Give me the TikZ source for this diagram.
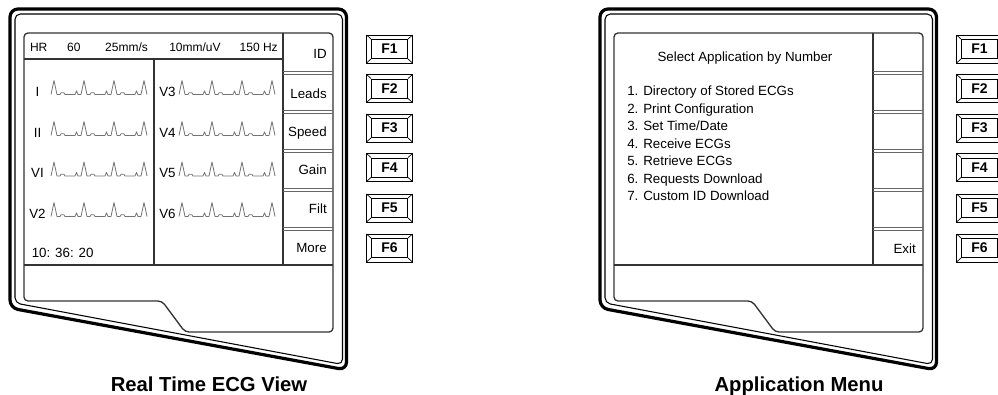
\documentclass[tikz,border=0pt]{standalone}
\usepackage{fontspec}
\setmainfont{Liberation Sans}

\begin{document}
\begin{tikzpicture}[
  x=0.75pt, y=-0.75pt,
  bezel/.style={line width=2.4pt, rounded corners=6pt},
  rim/.style={line width=0.8pt, rounded corners=4pt},
  panel/.style={draw=black!80, line width=1pt},
  sep/.style={draw=black!60, line width=0.6pt},
  lbl/.style={inner sep=0pt, anchor=base, font=\fontsize{10}{12}\selectfont},
  hdr/.style={inner sep=0pt, anchor=base, font=\fontsize{9}{11}\selectfont},
  soft/.style={lbl, anchor=base east},
  item/.style={lbl, anchor=base west},
  fkey/.style={draw, line width=0.7pt, minimum width=27pt, minimum height=14.25pt, inner sep=0pt,
    font=\fontsize{10.5}{12}\selectfont\bfseries},
  title/.style={inner sep=0pt, anchor=base, font=\fontsize{15.2}{18}\selectfont\bfseries},
  trace/.style={draw=black!55, line width=0.6pt, line join=round},
  pics/ecg/.style={code={
    \draw[trace] (0,0) \foreach \k in {1,2,3}{ -- ++(3,-14) -- ++(3,14) -- ++(3,0) -- ++(1,-1.7)
      -- ++(3,0) -- ++(1,1.7) -- ++(10,0) -- ++(1.5,-3.6) -- ++(1.5,3.6) -- ++(3,0)}
      -- ++(3,-14) -- ++(3,14);
  }}
]
\useasboundingbox (0,0) rectangle (998,395);
\clip (0,0) rectangle (998,395);

% the two monitor housings with their keys
\foreach \dx in {0,590} {
  \begin{scope}[shift={(\dx,0)}]
    \draw[bezel] (10,9) -- (346.5,9) -- (346.5,370) -- (10,308) -- cycle;
    \draw[rim] (15,14) -- (342.5,14) -- (342.5,364.5) -- (15,303) -- cycle;
    \draw[panel, rounded corners=3pt] (24,33) -- (333,33) -- (333,332) -- (185,332) -- (162,301) -- (24,301) -- cycle;
    \draw[panel] (24,265) -- (333,265) (283,33) -- (283,265);
    \foreach \k in {0,...,4}
      \draw[sep] (283,71+39*\k) -- (333,71+39*\k) (283,74.5+39*\k) -- (333,74.5+39*\k);
    \foreach \k/\yc in {1/49,2/88.5,3/128,4/167.5,5/208,6/248} {
      \node[fkey] (key\dx-\k) at (389.5,\yc) {F\k};
      \draw[line width=0.5pt] ([shift={(-4.5,-4)}]key\dx-\k.north west) rectangle ([shift={(4.5,4)}]key\dx-\k.south east);
      \draw[line width=0.5pt] (key\dx-\k.north west) -- ++(-4.5,-4) (key\dx-\k.north east) -- ++(4.5,-4)
        (key\dx-\k.south west) -- ++(-4.5,4) (key\dx-\k.south east) -- ++(4.5,4);
    }
  \end{scope}
}

% real time view
\draw[panel] (24,59) -- (283,59) (154,59) -- (154,265);
\node[hdr] (hr) at (38.7,51.7) {HR};
\node[hdr] (rate) at (73.8,51.7) {60};
\node[hdr] (speed) at (126.5,51.7) {25mm/s};
\node[hdr] (gain) at (195,51.7) {10mm/uV};
\node[hdr] (filter) at (258.7,51.7) {150 Hz};
\foreach \a/\b/\yb in {I/V3/94.5,II/V4/135.5,VI/V5/176,V2/V6/216.5} {
  \node[lbl] (lead-\a) at (37.5,\yb+2) {\a};
  \pic at (51,\yb) {ecg};
  \node[lbl] (lead-\b) at (167.5,\yb+2) {\b};
  \pic at (179,\yb) {ecg};
}
\node[item] (clock) at (31.5,257.5) {10: 36: 20};
\foreach \s/\yb in {ID/58.5,Leads/98.5,Speed/136.5,Gain/175,Filt/213.5,More/252.5}
  \node[soft] (soft-\s) at (327,\yb) {\s};
\node[title] (rtview) at (209,391.5) {Real Time ECG View};

% application menu
\node[lbl] (selhead) at (745,61.5) {Select Application by Number};
\foreach \n/\t in {1/{Directory of Stored ECGs},2/{Print Configuration},3/{Set Time/Date},4/{Receive ECGs},
  5/{Retrieve ECGs},6/{Requests Download},7/{Custom ID Download}}
  \node[item] (item\n) at (627,96+17.5*\n-17.5) {\n. \t};
\node[soft] (exit) at (916,253.3) {Exit};
\node[title] (appmenu) at (799,391.5) {Application Menu};
\end{tikzpicture}
\end{document}
